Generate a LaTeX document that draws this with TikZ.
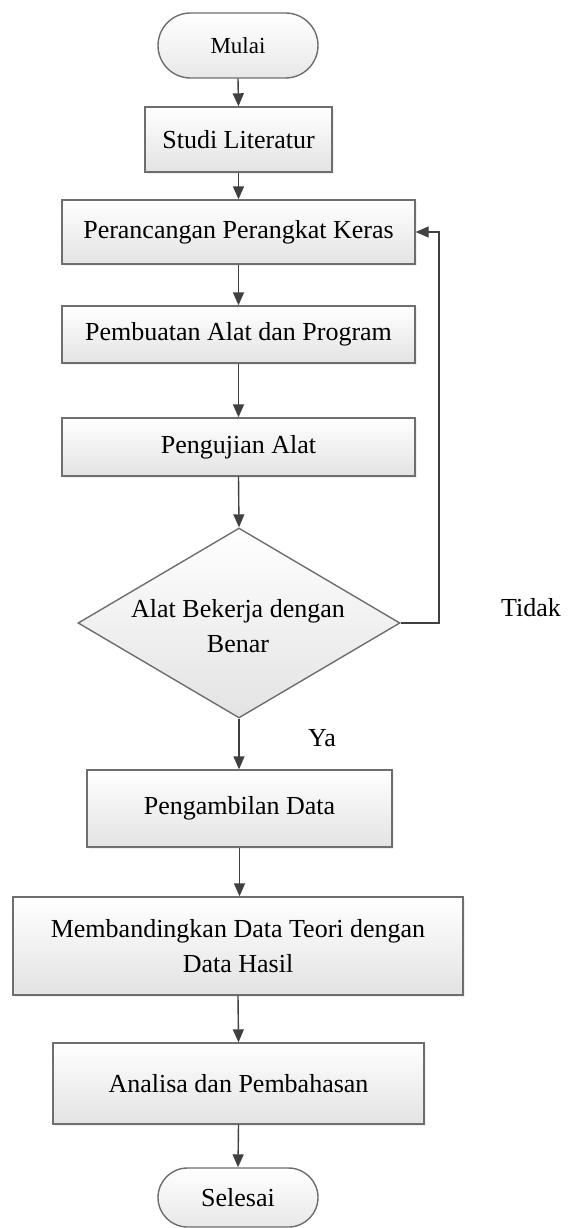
\documentclass[tikz,border=0pt]{standalone}
\usepackage{fontspec}
\setmainfont{Liberation Serif}
\usetikzlibrary{arrows.meta,shapes.misc,shapes.geometric,shadows}
\definecolor{edgegray}{HTML}{6E6E6E}
\definecolor{arrowgray}{HTML}{404040}
\begin{document}
\begin{tikzpicture}[x=1pt,y=-1pt,
  every node/.style={font=\fontsize{26}{35}\selectfont, text=black},
  procbox/.style={rectangle, draw=edgegray, line width=1.4pt, top color=white, bottom color=black!11,
    drop shadow={opacity=0.12, shadow xshift=2pt, shadow yshift=-2pt}, inner sep=0pt, align=center},
  termbox/.style={rounded rectangle, draw=edgegray, line width=1.4pt, top color=white, bottom color=black!9,
    inner sep=0pt, minimum width=160pt},
  decbox/.style={diamond, draw=edgegray, line width=1.4pt, top color=white, bottom color=black!11, inner sep=0pt},
  flow/.style={draw=arrowgray, line width=1.4pt, -{Triangle[length=13pt,width=11pt]}},
  lbl/.style={font=\fontsize{26}{35}\selectfont}
]
\useasboundingbox (0,0) rectangle (568,1228);
\fill[white] (0,0) rectangle (568,1228);

\node[termbox, minimum height=65pt, font=\fontsize{23}{28}\selectfont] (mulai) at (238,45.5) {Mulai};
\node[procbox, minimum width=187pt, minimum height=65pt] (studi) at (238.5,139.5) {Studi Literatur};
\node[procbox, minimum width=353pt, minimum height=64pt] (peranc) at (238.5,232) {Perancangan Perangkat Keras};
\node[procbox, minimum width=353pt, minimum height=57pt] (buat) at (238.5,334.5) {Pembuatan Alat dan Program};
\node[procbox, minimum width=353pt, minimum height=58pt] (uji) at (238.5,447) {Pengujian Alat};
\node[decbox, minimum width=322pt, minimum height=190pt] (dec) at (239,623) {};
\node[align=center] (dectext) at (238,626) {Alat Bekerja dengan\\Benar};
\node[procbox, minimum width=305pt, minimum height=77pt] (ambil) at (239.5,808.5) {Pengambilan Data};
\node[procbox, minimum width=450pt, minimum height=98pt] (banding) at (238,946) {Membandingkan Data Teori dengan\\Data Hasil};
\node[procbox, minimum width=371pt, minimum height=81pt] (analisa) at (238.5,1083.5) {Analisa dan Pembahasan};
\node[termbox, minimum height=59pt] (selesai) at (238,1197.5) {Selesai};

\node[lbl] (ya) at (322,738) {Ya};
\node[lbl] (tidak) at (531,608) {Tidak};

\coordinate (loopA) at (439,623);
\coordinate (loopB) at (439,232);

\draw[flow] (mulai.south) -- (studi.north);
\draw[flow] (studi.south) -- (peranc.north);
\draw[flow] (peranc.south) -- (buat.north);
\draw[flow] (buat.south) -- (uji.north);
\draw[flow] (uji.south) -- (dec.north);
\draw[flow] (dec.south) -- (ambil.north -| dec.south);
\draw[flow] (ambil.south) -- (banding.north -| ambil.south);
\draw[flow] (banding.south) -- (analisa.north);
\draw[flow] (analisa.south) -- (selesai.north);
\draw[flow] (dec.east) -- (loopA) -- (loopB) -- (peranc.east);
\end{tikzpicture}
\end{document}
